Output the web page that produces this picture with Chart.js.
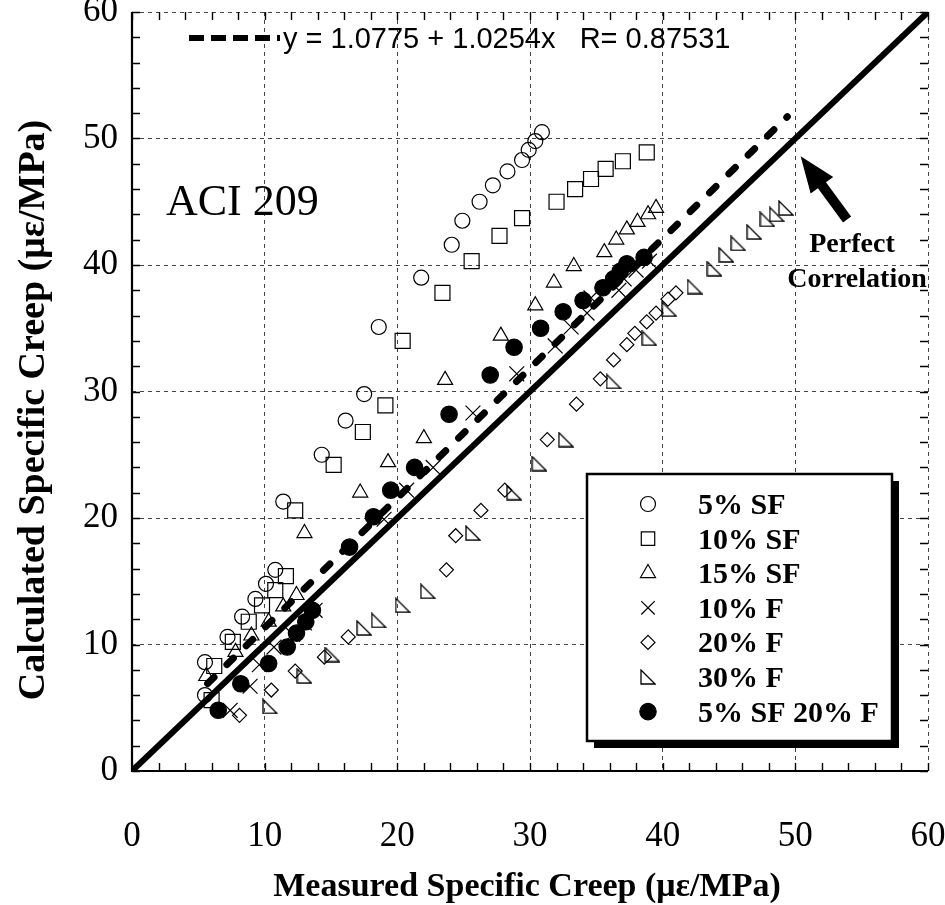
<!DOCTYPE html>
<html>
<head>
<meta charset="utf-8">
<script src="https://cdn.jsdelivr.net/npm/chart.js@4.4.1/dist/chart.umd.min.js"></script>
<style>
  html, body { margin: 0; padding: 0; background: #fff; }
</style>
</head>
<body>
<canvas id="creepChart" width="945" height="905"></canvas>
<script>
/* ACI 209 - calculated vs measured specific creep */

// series values (x = measured, y = calculated), in µε/MPa
const sf5X = [5.5, 5.5, 7.2, 8.3, 9.3, 10.1, 10.8, 11.4, 14.3, 16.1, 17.5, 18.6, 21.8, 24.1, 24.9, 26.2, 27.2, 28.3, 29.4, 29.9, 30.4, 30.9];
const sf5Y = [6.0, 8.6, 10.6, 12.2, 13.6, 14.8, 15.9, 21.3, 25.0, 27.7, 29.8, 35.1, 39.0, 41.6, 43.5, 45.0, 46.3, 47.4, 48.3, 49.1, 49.8, 50.5];

const sf10X = [6.0, 6.2, 7.6, 8.8, 9.8, 10.8, 11.6, 12.3, 15.2, 17.4, 19.1, 20.4, 23.4, 25.6, 27.7, 29.4, 32.0, 33.4, 34.6, 35.7, 37.0, 38.8];
const sf10Y = [5.6, 8.3, 10.2, 11.8, 13.1, 14.3, 15.4, 20.6, 24.2, 26.8, 28.9, 34.0, 37.8, 40.3, 42.3, 43.7, 45.0, 46.0, 46.8, 47.6, 48.2, 48.9];

const sf15X = [5.6, 7.8, 9.0, 10.3, 11.4, 12.4, 13.0, 17.2, 19.3, 22.0, 23.6, 27.8, 30.4, 31.8, 33.3, 35.6, 36.5, 37.3, 38.1, 38.9, 39.5];
const sf15Y = [7.5, 9.4, 10.7, 11.8, 13.0, 13.9, 18.8, 22.0, 24.4, 26.3, 30.9, 34.4, 36.8, 38.6, 39.9, 41.0, 42.0, 42.8, 43.4, 44.0, 44.5];

const f10X = [7.4, 8.9, 9.6, 10.7, 12.1, 13.0, 13.8, 19.0, 20.7, 22.7, 25.7, 29.0, 31.9, 33.1, 34.3, 34.6, 36.7, 37.1, 38.0, 39.0];
const f10Y = [4.8, 6.7, 8.4, 9.8, 10.8, 11.7, 12.7, 19.9, 22.2, 24.0, 28.3, 31.4, 33.6, 35.1, 36.2, 37.4, 38.0, 38.9, 39.6, 40.3];

const f20X = [8.1, 10.5, 12.3, 14.5, 16.3, 23.7, 24.4, 26.3, 28.1, 31.3, 33.5, 35.3, 36.3, 37.3, 37.9, 38.8, 39.5, 40.4, 41.0];
const f20Y = [4.4, 6.4, 7.9, 9.0, 10.6, 15.9, 18.6, 20.6, 22.2, 26.2, 29.0, 31.0, 32.5, 33.7, 34.6, 35.5, 36.2, 37.3, 37.8];

const f30X = [10.4, 13.0, 15.1, 17.5, 18.6, 20.4, 22.3, 25.7, 28.8, 30.7, 32.7, 36.3, 39.0, 40.5, 42.4, 43.9, 44.8, 45.7, 46.9, 47.9, 48.6, 49.3];
const f30Y = [5.1, 7.5, 9.2, 11.3, 11.9, 13.1, 14.2, 18.8, 22.0, 24.3, 26.2, 30.8, 34.2, 36.5, 38.3, 39.7, 40.8, 41.7, 42.6, 43.6, 44.0, 44.5];

const sf5f20X = [6.5, 8.2, 10.3, 11.7, 12.4, 13.1, 13.6, 16.4, 18.2, 19.5, 21.3, 23.9, 27.0, 28.8, 30.8, 32.5, 34.0, 35.5, 36.3, 36.8, 37.3, 38.6];
const sf5f20Y = [4.8, 6.9, 8.5, 9.8, 10.9, 11.8, 12.7, 17.7, 20.1, 22.2, 24.0, 28.2, 31.3, 33.5, 35.0, 36.3, 37.2, 38.2, 38.9, 39.5, 40.1, 40.6];

// regression y = 1.0775 + 1.0254x, drawn over the measured range
const fitX = [5.7, 49.4];
const fitY = [6.92, 51.73];

// perfect correlation line y = x
const perfectX = [0, 60];
const perfectY = [0, 60];

const axisTicks = [0, 10, 20, 30, 40, 50, 60];
const seriesNames = ["5% SF", "10% SF", "15% SF", "10% F", "20% F", "30% F", "5% SF 20% F"];

const arrowFrom = [53.9, 43.6];
const arrowTo = [50.4, 48.6];

const toPoints = (xs, ys) => xs.map((x, i) => ({ x: x, y: ys[i] }));

// right-angle triangle marker (not a built-in point style)
function rightTriangle(size) {
    const c = document.createElement("canvas");
    c.width = size;
    c.height = size;
    const g = c.getContext("2d");
    g.strokeStyle = "#000";
    g.lineWidth = 1.3;
    g.beginPath();
    g.moveTo(1, 1);
    g.lineTo(1, size - 1);
    g.lineTo(size - 1, size - 1);
    g.closePath();
    g.stroke();
    return c;
}
const rightTri = rightTriangle(16);

const markers = [
    { pointStyle: "circle", radius: 7.5, fill: "rgba(0,0,0,0)" },
    { pointStyle: "rect", radius: 10.6, fill: "rgba(0,0,0,0)" },
    { pointStyle: "triangle", radius: 8.7, fill: "rgba(0,0,0,0)" },
    { pointStyle: "crossRot", radius: 10.5, fill: "rgba(0,0,0,0)" },
    { pointStyle: "rectRot", radius: 7, fill: "rgba(0,0,0,0)" },
    { pointStyle: rightTri, radius: 8, fill: "rgba(0,0,0,0)" },
    { pointStyle: "circle", radius: 8.2, fill: "#000" }
];
const seriesData = [
    toPoints(sf5X, sf5Y), toPoints(sf10X, sf10Y), toPoints(sf15X, sf15Y),
    toPoints(f10X, f10Y), toPoints(f20X, f20Y), toPoints(f30X, f30Y),
    toPoints(sf5f20X, sf5f20Y)
];

const scatterSets = seriesData.map((pts, i) => ({
    label: seriesNames[i],
    data: pts,
    showLine: false,
    pointStyle: markers[i].pointStyle,
    pointRadius: markers[i].radius,
    pointBackgroundColor: markers[i].fill,
    pointBorderColor: "#000",
    pointBorderWidth: 1.2
}));

const serif = '"Liberation Serif", "Times New Roman", serif';

// frame + inward minor ticks every 2 units on all four sides
const frameTicks = {
    id: "frameTicks",
    afterDatasetsDraw(chart) {
        const { ctx, chartArea: a, scales: { x, y } } = chart;
        ctx.save();
        ctx.strokeStyle = "#000";
        ctx.lineWidth = 1.4;
        ctx.beginPath();
        for (let v = 0; v <= 60; v += 2) {
            const px = Math.round(x.getPixelForValue(v)) + 0.5;
            const py = Math.round(y.getPixelForValue(v)) + 0.5;
            ctx.moveTo(px, a.bottom); ctx.lineTo(px, a.bottom - 8);
            ctx.moveTo(px, a.top); ctx.lineTo(px, a.top + 8);
            ctx.moveTo(a.left, py); ctx.lineTo(a.left + 8, py);
            ctx.moveTo(a.right, py); ctx.lineTo(a.right - 8, py);
        }
        ctx.stroke();
        ctx.lineWidth = 2.2;
        ctx.beginPath();
        ctx.moveTo(a.left, a.top);
        ctx.lineTo(a.left, a.bottom);
        ctx.lineTo(a.right, a.bottom);
        ctx.stroke();
        ctx.restore();
    }
};

// titles, annotations and the boxed legend
const annotations = {
    id: "annotations",
    afterDraw(chart) {
        const { ctx, scales: { x, y } } = chart;
        ctx.save();
        ctx.fillStyle = "#000";

        // axis titles
        ctx.textAlign = "center";
        ctx.textBaseline = "alphabetic";
        ctx.font = "bold 34px " + serif;
        ctx.fillText("Measured Specific Creep (\u03BC\u03B5/MPa)", 527, 896);
        ctx.save();
        ctx.translate(44, 410);
        ctx.rotate(-Math.PI / 2);
        ctx.font = "bold 38px " + serif;
        ctx.fillText("Calculated Specific Creep (\u03BC\u03B5/MPa)", 0, 0);
        ctx.restore();

        // model name
        ctx.textAlign = "left";
        ctx.font = "44px " + serif;
        ctx.fillText("ACI 209", 166, 215);

        // regression key
        ctx.strokeStyle = "#000";
        ctx.lineWidth = 6;
        ctx.setLineDash([15, 7]);
        ctx.beginPath();
        ctx.moveTo(189, 38);
        ctx.lineTo(280, 38);
        ctx.stroke();
        ctx.setLineDash([]);
        ctx.font = '29px "Liberation Sans", Arial, sans-serif';
        ctx.fillText("y = 1.0775 + 1.0254x   R= 0.87531", 283, 48);

        // perfect correlation arrow
        const tx = x.getPixelForValue(arrowFrom[0]), ty = y.getPixelForValue(arrowFrom[1]);
        const hx = x.getPixelForValue(arrowTo[0]), hy = y.getPixelForValue(arrowTo[1]);
        const ang = Math.atan2(hy - ty, hx - tx);
        const len = Math.hypot(hx - tx, hy - ty);
        ctx.save();
        ctx.translate(tx, ty);
        ctx.rotate(ang);
        ctx.beginPath();
        ctx.moveTo(0, -5);
        ctx.lineTo(len - 36, -5);
        ctx.lineTo(len - 36, -14);
        ctx.lineTo(len, 0);
        ctx.lineTo(len - 36, 14);
        ctx.lineTo(len - 36, 5);
        ctx.lineTo(0, 5);
        ctx.closePath();
        ctx.fill();
        ctx.restore();
        ctx.font = "bold 28px " + serif;
        ctx.textAlign = "center";
        ctx.fillText("Perfect", 852, 252);
        ctx.fillText("Correlation", 857, 287);

        // legend box with drop shadow
        const box = { left: 587, top: 474, right: 892, bottom: 741 };
        ctx.fillRect(box.left + 7, box.top + 7, box.right - box.left, box.bottom - box.top);
        ctx.fillStyle = "#fff";
        ctx.fillRect(box.left, box.top, box.right - box.left, box.bottom - box.top);
        ctx.lineWidth = 2.5;
        ctx.strokeRect(box.left, box.top, box.right - box.left, box.bottom - box.top);

        ctx.font = "bold 30px " + serif;
        ctx.textAlign = "left";
        seriesNames.forEach((name, i) => {
            const cy = 504 + i * 34.6;
            const m = markers[i];
            ctx.fillStyle = m.fill;
            ctx.strokeStyle = "#000";
            ctx.lineWidth = 1.2;
            Chart.helpers.drawPoint(ctx, {
                pointStyle: m.pointStyle,
                radius: Math.min(m.radius, 9.5),
                rotation: 0,
                borderWidth: 1.2
            }, 648, cy);
            ctx.fillStyle = "#000";
            ctx.fillText(name, 698, cy + 10);
        });
        ctx.restore();
    }
};

const tickFont = { family: serif, size: 35 };

new Chart(document.getElementById("creepChart"), {
    type: "scatter",
    data: {
        datasets: scatterSets.concat([
            {
                label: "fit",
                data: toPoints(fitX, fitY),
                showLine: true,
                borderColor: "#000",
                borderWidth: 7,
                borderDash: [9, 18],
                borderCapStyle: "round",
                pointRadius: 0
            },
            {
                label: "perfect",
                data: toPoints(perfectX, perfectY),
                showLine: true,
                borderColor: "#000",
                borderWidth: 6,
                pointRadius: 0
            }
        ])
    },
    options: {
        responsive: false,
        animation: false,
        devicePixelRatio: 1,
        layout: { padding: { top: 12, right: 17, left: 0, bottom: 0 } },
        plugins: {
            legend: { display: false },
            tooltip: { enabled: false }
        },
        scales: {
            x: {
                type: "linear",
                min: 0,
                max: 60,
                afterBuildTicks: s => { s.ticks = axisTicks.map(v => ({ value: v })); },
                ticks: { color: "#000", font: tickFont, padding: 45 },
                grid: { color: "#444", lineWidth: 1, drawTicks: false },
                border: { display: false, dash: [4, 4] },
                afterFit: s => { s.height = 134; s.paddingLeft = 0; s.paddingRight = 0; }
            },
            y: {
                type: "linear",
                min: 0,
                max: 60,
                afterBuildTicks: s => { s.ticks = axisTicks.map(v => ({ value: v })); },
                ticks: { color: "#000", font: tickFont, padding: 14 },
                grid: { color: "#444", lineWidth: 1, drawTicks: false },
                border: { display: false, dash: [4, 4] },
                afterFit: s => { s.width = 132; s.paddingTop = 0; s.paddingBottom = 0; }
            }
        }
    },
    plugins: [frameTicks, annotations]
});
</script>
</body>
</html>
